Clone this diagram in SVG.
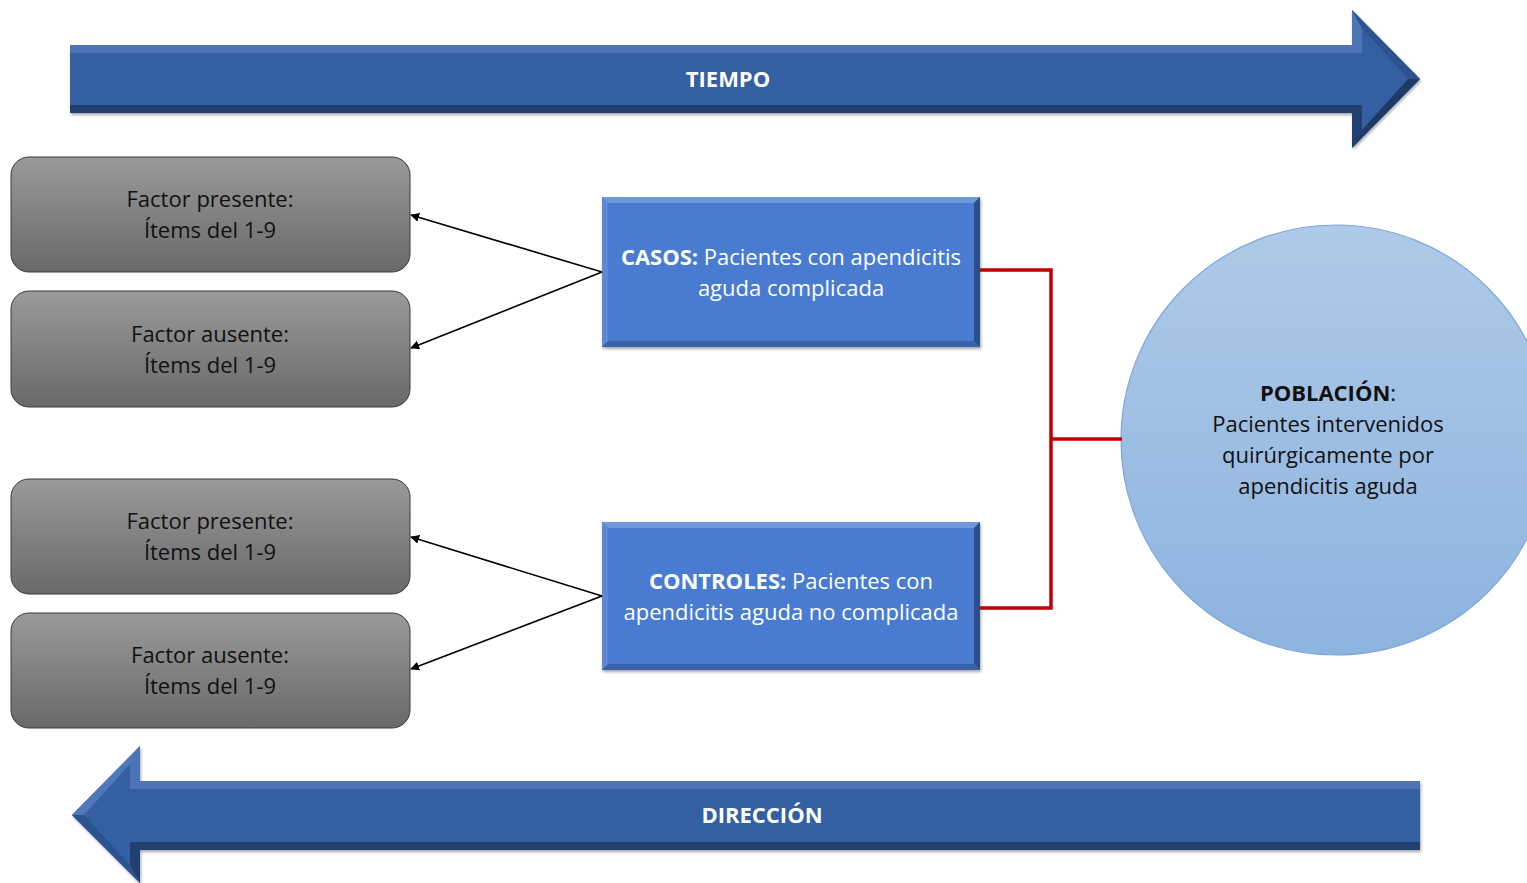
<svg xmlns="http://www.w3.org/2000/svg" width="1527" height="883" viewBox="0 0 1527 883">
<defs>
<linearGradient id="gray" x1="0" y1="0" x2="0" y2="1">
<stop offset="0" stop-color="#9a9a9a"/>
<stop offset="1" stop-color="#696969"/>
</linearGradient>
<linearGradient id="circ" x1="0" y1="0" x2="0" y2="1">
<stop offset="0" stop-color="#aecae8"/>
<stop offset="1" stop-color="#8db3df"/>
</linearGradient>
<marker id="ah" viewBox="0 0 10 10" refX="9" refY="5" markerWidth="9" markerHeight="9" markerUnits="userSpaceOnUse" orient="auto">
<path d="M0,0 L10,5 L0,10 z" fill="#000"/>
</marker>
<filter id="sh" x="-5%" y="-5%" width="110%" height="115%">
<feDropShadow dx="1" dy="2" stdDeviation="1.5" flood-color="#000" flood-opacity="0.35"/>
</filter>
</defs>
<style>
.gbox{fill:url(#gray);stroke:#3a3a3a;stroke-width:1}
.gtxt{font-family:"Open Sans","Noto Sans",sans-serif;font-size:22px;fill:#111;text-anchor:middle}
.btxt{font-family:"Open Sans","Noto Sans",sans-serif;font-size:22px;fill:#ffffff;text-anchor:middle}
.atxt{font-family:"Open Sans","Noto Sans",sans-serif;font-size:22px;font-weight:bold;fill:#ffffff;text-anchor:middle}
.ctxt{font-family:"Open Sans","Noto Sans",sans-serif;font-size:22px;fill:#111;text-anchor:middle}
.red{fill:none;stroke:#c00000;stroke-width:3.5}
.blk{fill:none;stroke:#000;stroke-width:1.6;marker-end:url(#ah)}
</style>

<g id="tiempo">
<polygon points="70,45 1352,45 1352,10 1420,79 1352,148 1352,113 70,113" fill="#355fa3" filter="url(#sh)"/>
<polygon points="70,45 1352,45 1352,10 1362,28 1362,53 70,53" fill="#4d74b5"/>
<polygon points="70,105 1362,105 1362,130 1352,148 1352,113 70,113" fill="#22406f"/>
<polygon points="1362,28 1352,10 1420,79 1408,79" fill="#2c528f"/>
<polygon points="1408,79 1420,79 1352,148 1362,130" fill="#1e3a66"/>
<rect x="70" y="53" width="1292" height="52" fill="#355fa3"/>
<text class="atxt" x="728" y="87">TIEMPO</text>
</g>

<g id="direccion">
<polygon points="1420,781 140,781 140,746 72,815 140,883 140,850 1420,850" fill="#355fa3" filter="url(#sh)"/>
<polygon points="1420,781 140,781 140,746 130,764 130,789 1420,789" fill="#4d74b5"/>
<polygon points="140,746 72,815 84,815 130,764" fill="#4f78bb"/>
<polygon points="84,815 72,815 140,883 130,865" fill="#2c528f"/>
<polygon points="1420,842 130,842 130,865 140,883 140,850 1420,850" fill="#22406f"/>
<rect x="130" y="789" width="1290" height="53" fill="#355fa3"/>
<text class="atxt" x="762" y="823">DIRECCIÓN</text>
</g>

<g id="fp1">
<rect class="gbox" x="11" y="157" width="399" height="115" rx="18"/>
<text class="gtxt" x="210" y="207">Factor presente:</text>
<text class="gtxt" x="210" y="238">Ítems del 1-9</text>
</g>
<g id="fa1">
<rect class="gbox" x="11" y="291" width="399" height="116" rx="18"/>
<text class="gtxt" x="210" y="342">Factor ausente:</text>
<text class="gtxt" x="210" y="373">Ítems del 1-9</text>
</g>
<g id="fp2">
<rect class="gbox" x="11" y="479" width="399" height="115" rx="18"/>
<text class="gtxt" x="210" y="529">Factor presente:</text>
<text class="gtxt" x="210" y="560">Ítems del 1-9</text>
</g>
<g id="fa2">
<rect class="gbox" x="11" y="613" width="399" height="115" rx="18"/>
<text class="gtxt" x="210" y="663">Factor ausente:</text>
<text class="gtxt" x="210" y="694">Ítems del 1-9</text>
</g>

<g id="casos">
<rect x="602" y="197" width="378" height="150" fill="#4a7bd0" filter="url(#sh)"/>
<polygon points="602,197 980,197 974,203 608,203" fill="#6f97dc"/>
<polygon points="602,197 608,203 608,341 602,347" fill="#5d88d6"/>
<polygon points="980,197 980,347 974,341 974,203" fill="#2c4f8c"/>
<polygon points="602,347 980,347 974,341 608,341" fill="#3a62a8"/>
<text class="btxt" x="791" y="265"><tspan font-weight="bold">CASOS:</tspan> Pacientes con apendicitis</text>
<text class="btxt" x="791" y="296">aguda complicada</text>
</g>

<g id="controles">
<rect x="602" y="522" width="378" height="148" fill="#4a7bd0" filter="url(#sh)"/>
<polygon points="602,522 980,522 974,528 608,528" fill="#6f97dc"/>
<polygon points="602,522 608,528 608,664 602,670" fill="#5d88d6"/>
<polygon points="980,522 980,670 974,664 974,528" fill="#2c4f8c"/>
<polygon points="602,670 980,670 974,664 608,664" fill="#3a62a8"/>
<text class="btxt" x="791" y="589"><tspan font-weight="bold">CONTROLES:</tspan> Pacientes con</text>
<text class="btxt" x="791" y="620">apendicitis aguda no complicada</text>
</g>

<g id="poblacion">
<circle cx="1336" cy="440" r="215" fill="url(#circ)" stroke="#7ea6d9" stroke-width="1.2"/>
<text class="ctxt" x="1328" y="401"><tspan font-weight="bold">POBLACIÓN</tspan>:</text>
<text class="ctxt" x="1328" y="432">Pacientes intervenidos</text>
<text class="ctxt" x="1328" y="463">quirúrgicamente por</text>
<text class="ctxt" x="1328" y="494">apendicitis aguda</text>
</g>

<g id="connectors">
<polyline class="red" points="980,270 1051,270 1051,608 980,608"/>
<line class="red" x1="1051" y1="439" x2="1122" y2="439"/>
<line class="blk" x1="602" y1="272" x2="411" y2="215"/>
<line class="blk" x1="602" y1="272" x2="411" y2="348"/>
<line class="blk" x1="602" y1="596" x2="411" y2="537"/>
<line class="blk" x1="602" y1="596" x2="411" y2="669"/>
</g>
</svg>
